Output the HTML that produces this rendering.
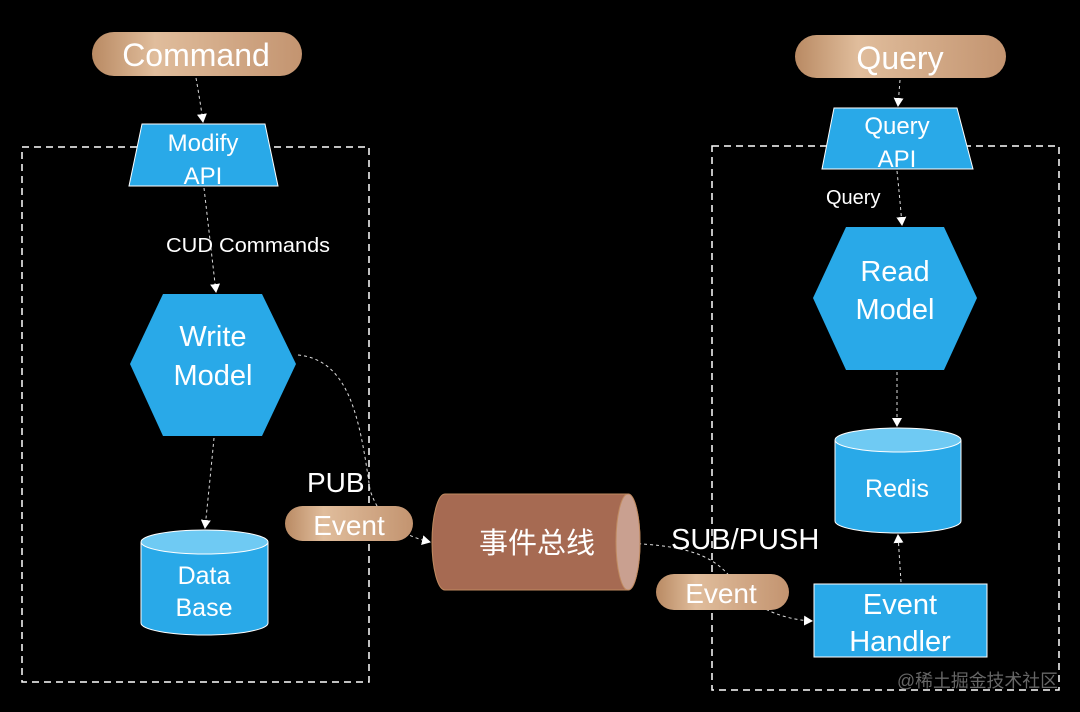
<!DOCTYPE html>
<html><head><meta charset="utf-8"><style>
html,body{margin:0;padding:0;background:#000;}
svg{display:block}
text{font-family:"Liberation Sans","Noto Sans CJK SC",sans-serif;fill:#fff}
</style></head><body>
<svg width="1080" height="712" viewBox="0 0 1080 712" xmlns="http://www.w3.org/2000/svg">
<defs>
<linearGradient id="pill" x1="0" x2="1" y1="0" y2="0">
<stop offset="0" stop-color="#b98a63"/><stop offset="0.3" stop-color="#e0bd9c"/><stop offset="1" stop-color="#c39470"/>
</linearGradient>
<marker id="ar" markerWidth="10" markerHeight="10" refX="8" refY="5" orient="auto" markerUnits="userSpaceOnUse">
<path d="M0,0 L9,5 L0,10 z" fill="#fff"/></marker>
</defs>
<rect width="1080" height="712" fill="#000"/>
<rect x="22" y="147" width="347" height="535" fill="none" stroke="#fff" stroke-width="1.5" stroke-dasharray="7,5"/>
<rect x="712" y="146" width="347" height="544" fill="none" stroke="#fff" stroke-width="1.5" stroke-dasharray="7,5"/>

<g fill="none" stroke="#ddd" stroke-width="1" stroke-dasharray="3,3">
<path d="M196,78 Q200,100 203,122" marker-end="url(#ar)"/>
<path d="M204,188 Q210,240 216,292" marker-end="url(#ar)"/>
<path d="M214,438 Q210,480 205,528" marker-end="url(#ar)"/>
<path d="M298,355 C350,360 360,420 370,490 C380,520 400,535 430,542" marker-end="url(#ar)"/>
<path d="M900,80 L898,106" marker-end="url(#ar)"/>
<path d="M897,171 Q900,200 902,225" marker-end="url(#ar)"/>
<path d="M897,372 L897,426" marker-end="url(#ar)"/>
<path d="M901,582 L898,535" marker-end="url(#ar)"/>
<path d="M620,543 C700,545 720,560 740,590 C760,612 790,620 812,621" marker-end="url(#ar)"/>
</g>

<rect x="92" y="32" width="210" height="44" rx="22" fill="url(#pill)"/>
<text x="196" y="66" font-size="32" text-anchor="middle">Command</text>
<rect x="795" y="35" width="211" height="43" rx="21.5" fill="url(#pill)"/>
<text x="900" y="69" font-size="32" text-anchor="middle">Query</text>
<rect x="285" y="506" width="128" height="35" rx="17.5" fill="url(#pill)"/>
<text x="349" y="535" font-size="28" text-anchor="middle">Event</text>
<rect x="656" y="574" width="133" height="36" rx="18" fill="url(#pill)"/>
<text x="721" y="603" font-size="28" text-anchor="middle">Event</text>

<polygon points="142,124 265,124 278,186 129,186" fill="#29a9e8" stroke="#fff" stroke-width="1"/>
<text x="203" y="151" font-size="24" text-anchor="middle">Modify</text>
<text x="203" y="184" font-size="24" text-anchor="middle">API</text>
<polygon points="834,108 957,108 973,169 822,169" fill="#29a9e8" stroke="#fff" stroke-width="1"/>
<text x="897" y="134" font-size="24" text-anchor="middle">Query</text>
<text x="897" y="167" font-size="24" text-anchor="middle">API</text>

<text x="166" y="252" font-size="20" textLength="164" lengthAdjust="spacingAndGlyphs">CUD Commands</text>
<text x="826" y="204" font-size="20">Query</text>

<polygon points="163,294 262,294 296,364 262,436 163,436 130,364" fill="#29a9e8"/>
<text x="213" y="346" font-size="29" text-anchor="middle">Write</text>
<text x="213" y="385" font-size="29" text-anchor="middle">Model</text>
<polygon points="846,227 944,227 977,298 944,370 846,370 813,298" fill="#29a9e8"/>
<text x="895" y="281" font-size="29" text-anchor="middle">Read</text>
<text x="895" y="319" font-size="29" text-anchor="middle">Model</text>

<path d="M141,542 L141,623 A63.5,12 0 0 0 268,623 L268,542" fill="#29a9e8" stroke="#fff" stroke-width="1"/>
<ellipse cx="204.5" cy="542" rx="63.5" ry="12" fill="#6fcaf3" stroke="#fff" stroke-width="1"/>
<text x="204" y="584" font-size="25" text-anchor="middle">Data</text>
<text x="204" y="616" font-size="25" text-anchor="middle">Base</text>
<path d="M835,440 L835,521 A63,12 0 0 0 961,521 L961,440" fill="#29a9e8" stroke="#fff" stroke-width="1"/>
<ellipse cx="898" cy="440" rx="63" ry="12" fill="#6fcaf3" stroke="#fff" stroke-width="1"/>
<text x="897" y="497" font-size="25" text-anchor="middle">Redis</text>

<rect x="814" y="584" width="173" height="73" fill="#29a9e8" stroke="#fff" stroke-width="1"/>
<text x="900" y="614" font-size="29" text-anchor="middle">Event</text>
<text x="900" y="651" font-size="29" text-anchor="middle">Handler</text>

<path d="M445,494 L628,494 A12,48 0 0 1 628,590 L445,590 A13,48 0 0 1 445,494 z" fill="#a66a52" stroke="#c08a60" stroke-width="1"/>
<ellipse cx="628" cy="542" rx="12" ry="48" fill="#c9a090" stroke="#c08a60" stroke-width="1"/>
<text x="537" y="553" font-size="29" text-anchor="middle">事件总线</text>

<text x="307" y="492" font-size="28">PUB</text>
<text x="671" y="549" font-size="29">SUB/PUSH</text>

<text x="897" y="687" font-size="18" style="fill:#666" textLength="161" lengthAdjust="spacingAndGlyphs">@稀土掘金技术社区</text>
</svg>
</body></html>
